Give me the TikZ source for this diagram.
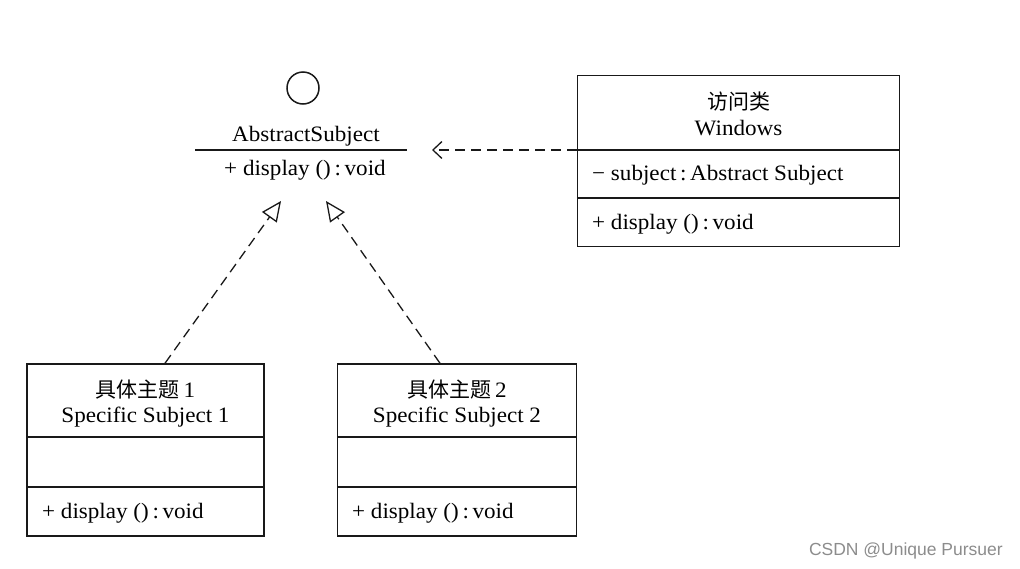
\documentclass[tikz,border=0pt]{standalone}
\usepackage{fontspec}
\setmainfont{Liberation Serif}[FakeStretch=1.05]
\newfontfamily\cjk{Noto Sans CJK SC}
\newfontfamily\wm{Liberation Sans}
\usetikzlibrary{arrows.meta,calc}
\tikzset{
  cls/.style={draw=black!90, line width=1.5pt, rectangle, inner sep=0pt},
  txt/.style={inner sep=0pt, anchor=base, text=black, font=\fontsize{22}{25}\selectfont},
  ltxt/.style={txt, anchor=base west},
  sep/.style={draw=black!90, line width=1.5pt},
  realize/.style={draw=black!90, line width=1.3pt, dash pattern=on 10pt off 6pt,
    -{Triangle[open, length=20pt, width=18pt, line width=1.3pt]}},
  depend/.style={draw=black!90, line width=1.3pt, dash pattern=on 10pt off 6pt,
    -{Straight Barb[length=9pt, width=17pt, line width=1.3pt]}}
}
\begin{document}
\begin{tikzpicture}[x=1pt,y=-1pt]
\useasboundingbox (0,0) rectangle (1020,568);

% interface AbstractSubject
\node[draw=black!90, line width=1.5pt, circle, minimum size=32pt, inner sep=0pt] (iface) at (303,88) {};
\node[txt] (absname) at (306,141) {AbstractSubject};
\coordinate (absL) at (195,150);
\coordinate (absR) at (407,150);
\draw[sep] (absL) -- (absR);
\node[txt] (absop) at (305,175) {+ display ()\,:\,void};

% Windows class
\node[cls, minimum width=322pt, minimum height=171pt] (win) at (738.5,161) {};
\node[txt] (winzh) at (738.5,109) {\cjk\fontsize{21}{24}\selectfont 访问类};
\node[txt] (winname) at (738.5,135) {Windows};
\draw[sep] (win.west |- absL) coordinate (winsep1) -- (win.east |- absL);
\coordinate (wy2) at (0,198);
\draw[sep] (win.west |- wy2) -- (win.east |- wy2);
\node[ltxt] (winattr) at (592,180) {− subject\,:\,Abstract Subject};
\node[ltxt] (winop) at (592,229) {+ display ()\,:\,void};

% Specific Subject 1
\node[cls, minimum width=237pt, minimum height=172pt] (s1) at (145.5,450) {};
\node[txt] (s1zh) at (145.5,397) {{\cjk\fontsize{21}{24}\selectfont 具体主题}\,1};
\node[txt] (s1name) at (145.5,422) {Specific Subject 1};
\coordinate (sy1) at (0,437);
\coordinate (sy2) at (0,487);
\draw[sep] (s1.west |- sy1) -- (s1.east |- sy1);
\draw[sep] (s1.west |- sy2) -- (s1.east |- sy2);
\node[ltxt] (s1op) at (42,518) {+ display ()\,:\,void};

% Specific Subject 2
\node[cls, minimum width=239pt, minimum height=172pt] (s2) at (457,450) {};
\node[txt] (s2zh) at (457,397) {{\cjk\fontsize{21}{24}\selectfont 具体主题}\,2};
\node[txt] (s2name) at (457,422) {Specific Subject 2};
\draw[sep] (s2.west |- sy1) -- (s2.east |- sy1);
\draw[sep] (s2.west |- sy2) -- (s2.east |- sy2);
\node[ltxt] (s2op) at (352,518) {+ display ()\,:\,void};

% connectors
\coordinate (tip1) at (281,201);
\coordinate (tip2) at (326,201);
\coordinate (tipw) at (432,150);
\draw[realize] ($(s1.north)+(19.5,0)$) -- (tip1);
\draw[realize] ($(s2.north)+(-17,0)$) -- (tip2);
\draw[depend] (winsep1) -- (tipw);

% watermark
\node[inner sep=0pt, anchor=base east, text=black!45, font=\wm\fontsize{17.5}{20}\selectfont] (wmark) at (1003,555) {CSDN @Unique Pursuer};
\end{tikzpicture}
\end{document}
